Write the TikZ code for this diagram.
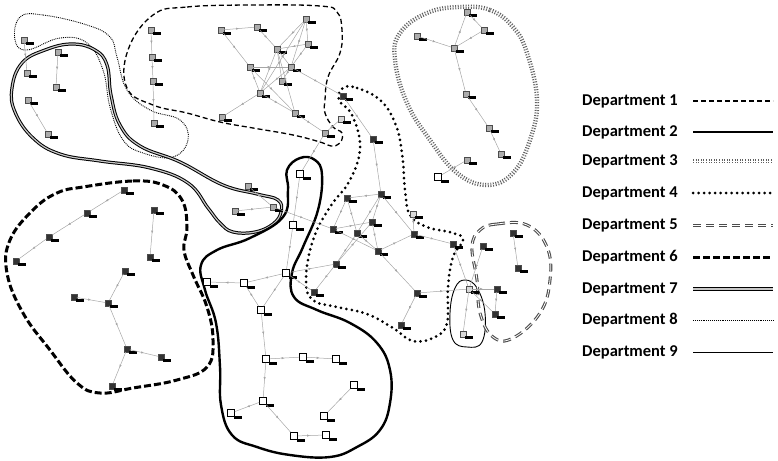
\documentclass[tikz,border=0pt]{standalone}
\usepackage{fontspec}
\setmainfont{Carlito}
\usetikzlibrary{arrows.meta,decorations.markings}

\tikzset{
	tag/.style={fill=black, minimum width=8pt, minimum height=3.2pt, inner sep=0pt},
	dev/.style={draw=gray!60!black, fill=gray!65, minimum size=5.5pt, inner sep=0pt, label={[tag, anchor=north west, xshift=-1.5pt, yshift=1pt]south east:{}}},
	devd/.style={dev, fill=gray!40!black},
	devl/.style={dev, fill=gray!30},
	devw/.style={draw=black, fill=white, line width=0.7pt, minimum size=7pt, inner sep=0pt, label={[tag, anchor=north west, xshift=-1.5pt, yshift=1pt]south east:{}}},
	link/.style={draw=gray!70, line width=0.5pt, postaction={decorate}, decoration={markings, mark=at position 0.5 with {\arrow{Latex[length=2.8pt,width=2.4pt]}}}},
	dept1/.style={line width=1.3pt, dash pattern=on 5pt off 3pt},
	dept2/.style={line width=2.4pt},
	dept3/.style={draw=gray!75!black, line width=1.9pt, double=white, double distance=0.5pt, dash pattern=on 1pt off 1.6pt},
	dept4/.style={line width=3pt, line cap=round, dash pattern=on 0pt off 5.5pt},
	dept5/.style={draw=gray!60!black, line width=1.1pt, double=white, double distance=0.8pt, dash pattern=on 8pt off 5pt},
	dept6/.style={line width=3pt, dash pattern=on 7pt off 3pt},
	dept7/.style={line width=1pt, double=gray!45, double distance=1.2pt},
	dept8/.style={line width=0.9pt, dash pattern=on 0.9pt off 1pt},
	dept9/.style={line width=0.9pt},
	legtxt/.style={anchor=west, inner sep=0pt, font=\bfseries\fontsize{16.5}{16.5}\selectfont}
}

\begin{document}
\begin{tikzpicture}[x=1pt, y=-1pt]
	\useasboundingbox (0,0) rectangle (778,460);
	% department boundaries
	\draw[dept1] plot[smooth cycle, tension=0.7] coordinates {(153,15) (187,7) (253,5) (320,6) (337,12) (342,30) (340,53) (328,77) (325,100) (325,113) (333,127) (342,133) (340,143) (331,146) (320,142) (293,135) (253,128) (220,122) (187,113) (153,105) (127,88) (128,50)};
	\draw[dept8] plot[smooth cycle, tension=0.7] coordinates {(20,17) (43,15) (87,25) (110,37) (117,57) (127,90) (150,110) (180,120) (188,140) (173,157) (143,153) (123,140) (110,107) (103,70) (87,43) (60,38) (27,50) (15,40)};
	\draw[dept7] plot[smooth cycle, tension=0.7] coordinates {(12,88) (22,63) (45,50) (72,44) (95,50) (107,65) (111,95) (120,125) (140,146) (180,162) (223,185) (257,194) (278,200) (281,212) (273,224) (255,232) (233,232) (220,223) (208,208) (188,183) (150,168) (100,161) (60,154) (33,138) (15,112)};
	\draw[dept9] plot[smooth cycle, tension=0.7] coordinates {(465,280) (477,288) (485,313) (482,342) (467,347) (453,340) (450,313) (455,288)};
	\draw[dept5] plot[smooth cycle, tension=0.7] coordinates {(480,230) (497,224) (527,225) (547,247) (550,280) (540,313) (513,338) (493,337) (480,313) (477,280) (472,247)};
	\draw[dept4] plot[smooth cycle, tension=0.7] coordinates {(343,88) (357,88) (380,100) (395,123) (402,153) (405,190) (410,215) (427,227) (453,233) (463,240) (453,257) (448,287) (447,323) (435,337) (413,341) (393,328) (367,314) (337,307) (313,300) (306,280) (313,240) (330,207) (350,180) (360,147) (352,115) (339,100)};
	\draw[dept2] plot[smooth cycle, tension=0.7] coordinates {(287,170) (300,158) (315,160) (322,175) (318,210) (303,247) (292,273) (294,297) (317,310) (350,323) (377,343) (390,370) (390,403) (380,430) (357,447) (330,457) (290,455) (257,447) (232,435) (221,405) (220,367) (216,323) (205,290) (201,265) (217,250) (250,238) (283,217) (288,190)};
	\draw[dept6] plot[smooth cycle, tension=0.7] coordinates {(83,187) (133,181) (163,185) (182,200) (187,227) (184,250) (193,275) (207,307) (213,340) (207,367) (177,380) (133,388) (100,393) (77,383) (50,350) (23,313) (7,273) (10,240) (33,210) (57,193)};
	\draw[dept3] plot[smooth cycle, tension=0.7] coordinates {(460,7) (490,10) (513,27) (527,53) (537,100) (530,140) (513,173) (487,185) (457,173) (430,140) (407,103) (395,60) (400,33) (427,13)};
	% devices
	\node[dev] (h1) at (24,40) {};
	\node[dev] (h2) at (27,73) {};
	\node[dev] (g1) at (58,52) {};
	\node[dev] (g2) at (56,87) {};
	\node[dev] (g3) at (28,100) {};
	\node[dev] (g4) at (48,134) {};
	\node[dev] (c1) at (151,30) {};
	\node[dev] (c2) at (152,57) {};
	\node[dev] (c3) at (153,81) {};
	\node[dev] (c4) at (154,123) {};
	\node[dev] (a1) at (221,30) {};
	\node[dev] (a2) at (257,27) {};
	\node[dev] (a3) at (306,19) {};
	\node[dev] (a4) at (308,44) {};
	\node[dev] (a5) at (277,49) {};
	\node[dev] (a6) at (250,67) {};
	\node[dev] (a7) at (291,67) {};
	\node[dev] (a8) at (282,81) {};
	\node[dev] (a9) at (260,93) {};
	\node[dev] (a10) at (222,117) {};
	\node[dev] (a11) at (295,113) {};
	\node[dev] (a12) at (325,133) {};
	\node[devl] (a13) at (341,119) {};
	\node[dev] (k1) at (467,12) {};
	\node[dev] (k2) at (484,30) {};
	\node[dev] (k3) at (417,36) {};
	\node[dev] (k4) at (454,48) {};
	\node[dev] (k5) at (466,94) {};
	\node[dev] (k6) at (489,128) {};
	\node[dev] (k7) at (501,154) {};
	\node[dev] (k8) at (467,160) {};
	\node[devw] (k9) at (438,177) {};
	\node[devd] (f1) at (124,190) {};
	\node[devd] (f2) at (87,213) {};
	\node[devd] (f3) at (49,237) {};
	\node[devd] (f4) at (16,261) {};
	\node[devd] (f5) at (154,210) {};
	\node[devd] (f6) at (150,257) {};
	\node[devd] (f7) at (125,271) {};
	\node[devd] (f8) at (74,297) {};
	\node[devd] (f9) at (108,303) {};
	\node[devd] (f10) at (127,349) {};
	\node[devd] (f11) at (161,357) {};
	\node[devd] (f12) at (112,386) {};
	\node[dev] (e1) at (248,186) {};
	\node[dev] (e2) at (235,211) {};
	\node[dev] (e3) at (273,207) {};
	\node[devw] (b1) at (300,174) {};
	\node[devw] (b2) at (293,225) {};
	\node[devw] (b3) at (286,273) {};
	\node[devw] (b4) at (244,283) {};
	\node[devw] (b5) at (207,282) {};
	\node[devw] (b6) at (261,310) {};
	\node[devw] (b7) at (266,359) {};
	\node[devw] (b8) at (303,357) {};
	\node[devw] (b9) at (336,359) {};
	\node[devw] (b10) at (263,401) {};
	\node[devw] (b11) at (231,413) {};
	\node[devw] (b12) at (294,436) {};
	\node[devw] (b13) at (326,435) {};
	\node[devw] (b14) at (354,385) {};
	\node[devw] (b15) at (324,416) {};
	\node[devd] (p1) at (343,96) {};
	\node[devd] (p2) at (373,139) {};
	\node[devd] (p3) at (381,194) {};
	\node[devd] (p4) at (347,198) {};
	\node[devd] (p5) at (372,222) {};
	\node[devd] (p6) at (357,233) {};
	\node[devd] (p7) at (333,229) {};
	\node[devd] (p8) at (414,234) {};
	\node[devl] (p9) at (413,214) {};
	\node[devd] (p10) at (378,251) {};
	\node[devd] (p11) at (336,264) {};
	\node[devd] (p12) at (314,292) {};
	\node[devd] (p13) at (417,293) {};
	\node[devd] (p14) at (401,325) {};
	\node[devd] (p15) at (453,244) {};
	\node[devd] (q1) at (483,246) {};
	\node[devl] (q2) at (469,289) {};
	\node[devd] (q3) at (497,289) {};
	\node[devd] (q4) at (495,314) {};
	\node[devl] (q5) at (463,334) {};
	\node[devd] (q6) at (513,233) {};
	\node[devd] (q7) at (518,268) {};
	% links
	\foreach \u/\v in {h1/h2, g1/g2, g3/g4, c1/c2, c2/c3, c3/c4,
		a1/a2, a2/a5, a1/a6, a3/a5, a3/a4, a3/a7, a3/a9, a4/a5, a4/a7, a5/a7, a5/a8, a5/a9, a5/a11,
		a6/a7, a6/a9, a6/a11, a7/a9, a7/a8, a9/a10, a9/a11, a7/p1, a11/a12, a12/a13, a12/b1,
		k1/k2, k2/k4, k4/k1, k3/k4, k4/k5, k5/k6, k6/k7, k8/k9,
		f1/f2, f2/f3, f3/f4, f5/f6, f7/f9, f8/f9, f9/f10, f10/f11, f10/f12,
		e1/e3, e2/e3, e3/p7,
		b1/b2, b2/b3, b3/b4, b4/b5, b4/b6, b3/b6, b6/b7, b7/b8, b8/b9, b7/b10, b10/b11, b10/b12, b12/b13, b14/b15,
		p1/p2, p2/p3, p3/p4, p3/p5, p3/p6, p3/p8, p4/p6, p4/p7, p7/p5, p7/p10, p6/p10, p5/p10,
		p11/p6, p11/p5, b3/p11, b3/p12, p11/p12, p10/p8, p10/p13, p13/p14, p13/q2, p8/p15, p9/p8,
		p15/q2, q1/q2, q2/q5, q2/q3, q2/q4, q3/q4, q6/q7}
		\draw[link] (\u) -- (\v);
	% legend
	\foreach \i/\y in {1/101, 2/132, 3/161, 4/193, 5/225, 6/257, 7/289, 8/320, 9/352} {
		\node[legtxt] (leg\i) at (582,\y) {Department \i};
		\coordinate (ls\i) at (693,\y);
		\coordinate (le\i) at (773,\y);
		\draw[dept\i] (ls\i) -- (le\i);
	}
\end{tikzpicture}
\end{document}
